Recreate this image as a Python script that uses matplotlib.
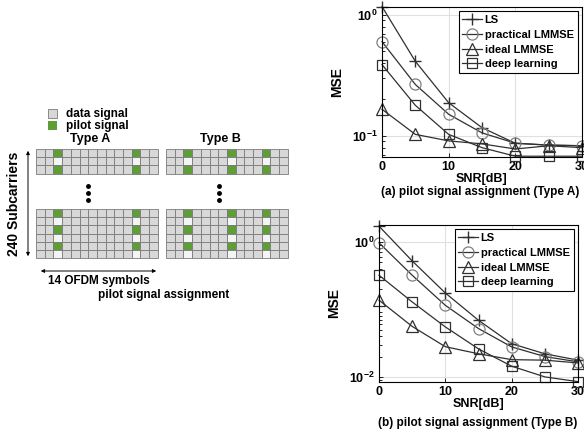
import numpy as np
import matplotlib
matplotlib.use('Agg')
import matplotlib.pyplot as plt
from matplotlib.patches import Rectangle

plt.rcParams['font.family'] = ['Liberation Sans', 'DejaVu Sans']
plt.rcParams['font.weight'] = 'bold'
plt.rcParams['axes.labelweight'] = 'bold'
plt.rcParams['mathtext.fontset'] = 'custom'
plt.rcParams['mathtext.rm'] = 'Liberation Sans'
plt.rcParams['mathtext.bf'] = 'Liberation Sans:bold'

# ---- data ----
snr = [0, 5, 10, 15, 20, 25, 30]
series_names = ['LS', 'practical LMMSE', 'ideal LMMSE', 'deep learning']

# Type A MSE
mse_a_ls = [1.17, 0.413, 0.188, 0.117, 0.087, 0.084, 0.083]
mse_a_plmmse = [0.60, 0.266, 0.151, 0.106, 0.087, 0.084, 0.083]
mse_a_ilmmse = [0.166, 0.103, 0.091, 0.086, 0.078, 0.083, 0.080]
mse_a_dl = [0.388, 0.179, 0.103, 0.080, 0.068, 0.068, 0.068]

# Type B MSE
mse_b_ls = [1.71, 0.523, 0.175, 0.069, 0.031, 0.022, 0.0177]
mse_b_plmmse = [0.97, 0.321, 0.115, 0.052, 0.0278, 0.020, 0.0167]
mse_b_ilmmse = [0.137, 0.056, 0.028, 0.022, 0.018, 0.0177, 0.0161]
mse_b_dl = [0.321, 0.129, 0.055, 0.026, 0.0144, 0.010, 0.0085]

# pilot layout (14 OFDM symbols)
n_symbols = 14
pilot_cols_a = [2, 11]
pilot_cols_b = [2, 7, 11]
pilot_rows_top = [0, 2]
pilot_rows_bottom = [0, 2, 4]

fig = plt.figure(figsize=(5.84, 4.34), dpi=100)

# ---- left diagram, drawn in pixel coordinates ----
dg = fig.add_axes([0, 0, 1, 1])
dg.set_xlim(0, 584)
dg.set_ylim(434, 0)
dg.axis('off')

GRAY = '#d8d8d8'
EDGE = '#7a7a7a'
GREEN = '#5f9e37'
cw, ch = 8.7, 8.2


def draw_grid(x0, y0, nrows, pilot_cols, pilot_rows):
    for r in range(nrows):
        for c in range(n_symbols):
            if c in pilot_cols:
                fc = GREEN if r in pilot_rows else '#f4f4f4'
            else:
                fc = GRAY
            dg.add_patch(Rectangle((x0 + c * cw, y0 + r * ch), cw, ch,
                                   facecolor=fc, edgecolor=EDGE, lw=0.6))


draw_grid(36, 149, 3, pilot_cols_a, pilot_rows_top)
draw_grid(36, 209, 6, pilot_cols_a, pilot_rows_bottom)
draw_grid(166, 149, 3, pilot_cols_b, pilot_rows_top)
draw_grid(166, 209, 6, pilot_cols_b, pilot_rows_bottom)

# vertical dots
for xd in (88, 219):
    for yd in (186, 193, 200):
        dg.plot(xd, yd, 'o', color='black', ms=2.5)

# legend squares
dg.add_patch(Rectangle((48, 109), 9, 9, facecolor=GRAY, edgecolor=EDGE, lw=0.6))
dg.add_patch(Rectangle((48, 121), 9, 9, facecolor=GREEN, edgecolor='none'))
dg.text(66, 114, 'data signal', fontsize=8.5, va='center', ha='left')
dg.text(66, 126, 'pilot signal', fontsize=8.5, va='center', ha='left')
dg.text(90, 139, 'Type A', fontsize=9, va='center', ha='center')
dg.text(220, 139, 'Type B', fontsize=9, va='center', ha='center')

# arrows
dg.annotate('', xy=(28, 148), xytext=(28, 259),
            arrowprops=dict(arrowstyle='<|-|>', lw=0.7, color='black',
                            mutation_scale=5))
dg.annotate('', xy=(38, 271), xytext=(159, 271),
            arrowprops=dict(arrowstyle='<|-|>', lw=0.7, color='black',
                            mutation_scale=5))
dg.text(14, 204, '240 Subcarriers', fontsize=10, rotation=90,
        va='center', ha='center')
dg.text(99, 281, '14 OFDM symbols', fontsize=8.5, va='center', ha='center')
dg.text(164, 295, 'pilot signal assignment', fontsize=8.5,
        va='center', ha='center')


# ---- right plots ----
def mse_plot(rect, data, ylim, yticks, yticklabels):
    ax = fig.add_axes(rect)
    styles = [
        dict(marker='+', color='#303030', mfc='none', mec='#303030', ms=9, mew=1.0),
        dict(marker='o', color='#303030', mfc='none', mec='#808080', ms=8, mew=0.9),
        dict(marker='^', color='#303030', mfc='none', mec='#303030', ms=8, mew=0.9),
        dict(marker='s', color='#303030', mfc='none', mec='#303030', ms=7.5, mew=0.9),
    ]
    for vals, name, st in zip(data, series_names, styles):
        ax.plot(snr, vals, lw=0.9, label=name, clip_on=False, **st)
    ax.set_yscale('log')
    ax.set_xlim(0, 30)
    ax.set_ylim(*ylim)
    ax.set_xticks([0, 10, 20, 30])
    ax.set_xticklabels(['0', '10', '20', '30'], fontsize=9)
    ax.set_yticks(yticks)
    ax.set_yticklabels(yticklabels, fontsize=9)
    ax.yaxis.set_minor_formatter(matplotlib.ticker.NullFormatter())
    ax.tick_params(which='both', direction='in', length=3, width=0.6, pad=3)
    ax.tick_params(which='minor', length=2)
    ax.grid(True, which='major', color='#e0e0e0', lw=0.8)
    for sp in ax.spines.values():
        sp.set_linewidth(0.8)
    ax.set_xlabel('SNR[dB]', fontsize=9, labelpad=0)
    ax.set_ylabel('MSE', fontsize=10, labelpad=6)
    leg = ax.legend(loc='upper right', fontsize=8, fancybox=False,
                    edgecolor='black', framealpha=1, borderpad=0.35,
                    labelspacing=0.42, handlelength=1.8, handletextpad=0.2,
                    borderaxespad=0.4)
    leg.get_frame().set_linewidth(0.8)
    return ax


ax1 = mse_plot([382 / 584, 1 - 157 / 434, 200 / 584, 150 / 434],
               [mse_a_ls, mse_a_plmmse, mse_a_ilmmse, mse_a_dl],
               (0.067, 1.16), [0.1, 1],
               [r'$\mathbf{10^{-1}}$', r'$\mathbf{10^{0}}$'])
fig.text(480 / 584, 1 - 192 / 434, '(a) pilot signal assignment (Type A)',
         fontsize=8.5, ha='center', va='center')

ax2 = mse_plot([379 / 584, 1 - 382 / 434, 199 / 584, 157 / 434],
               [mse_b_ls, mse_b_plmmse, mse_b_ilmmse, mse_b_dl],
               (0.0084, 1.78), [0.01, 1],
               [r'$\mathbf{10^{-2}}$', r'$\mathbf{10^{0}}$'])
fig.text(478 / 584, 1 - 423 / 434, '(b) pilot signal assignment (Type B)',
         fontsize=8.5, ha='center', va='center')

fig.savefig('out.png', dpi=100)
